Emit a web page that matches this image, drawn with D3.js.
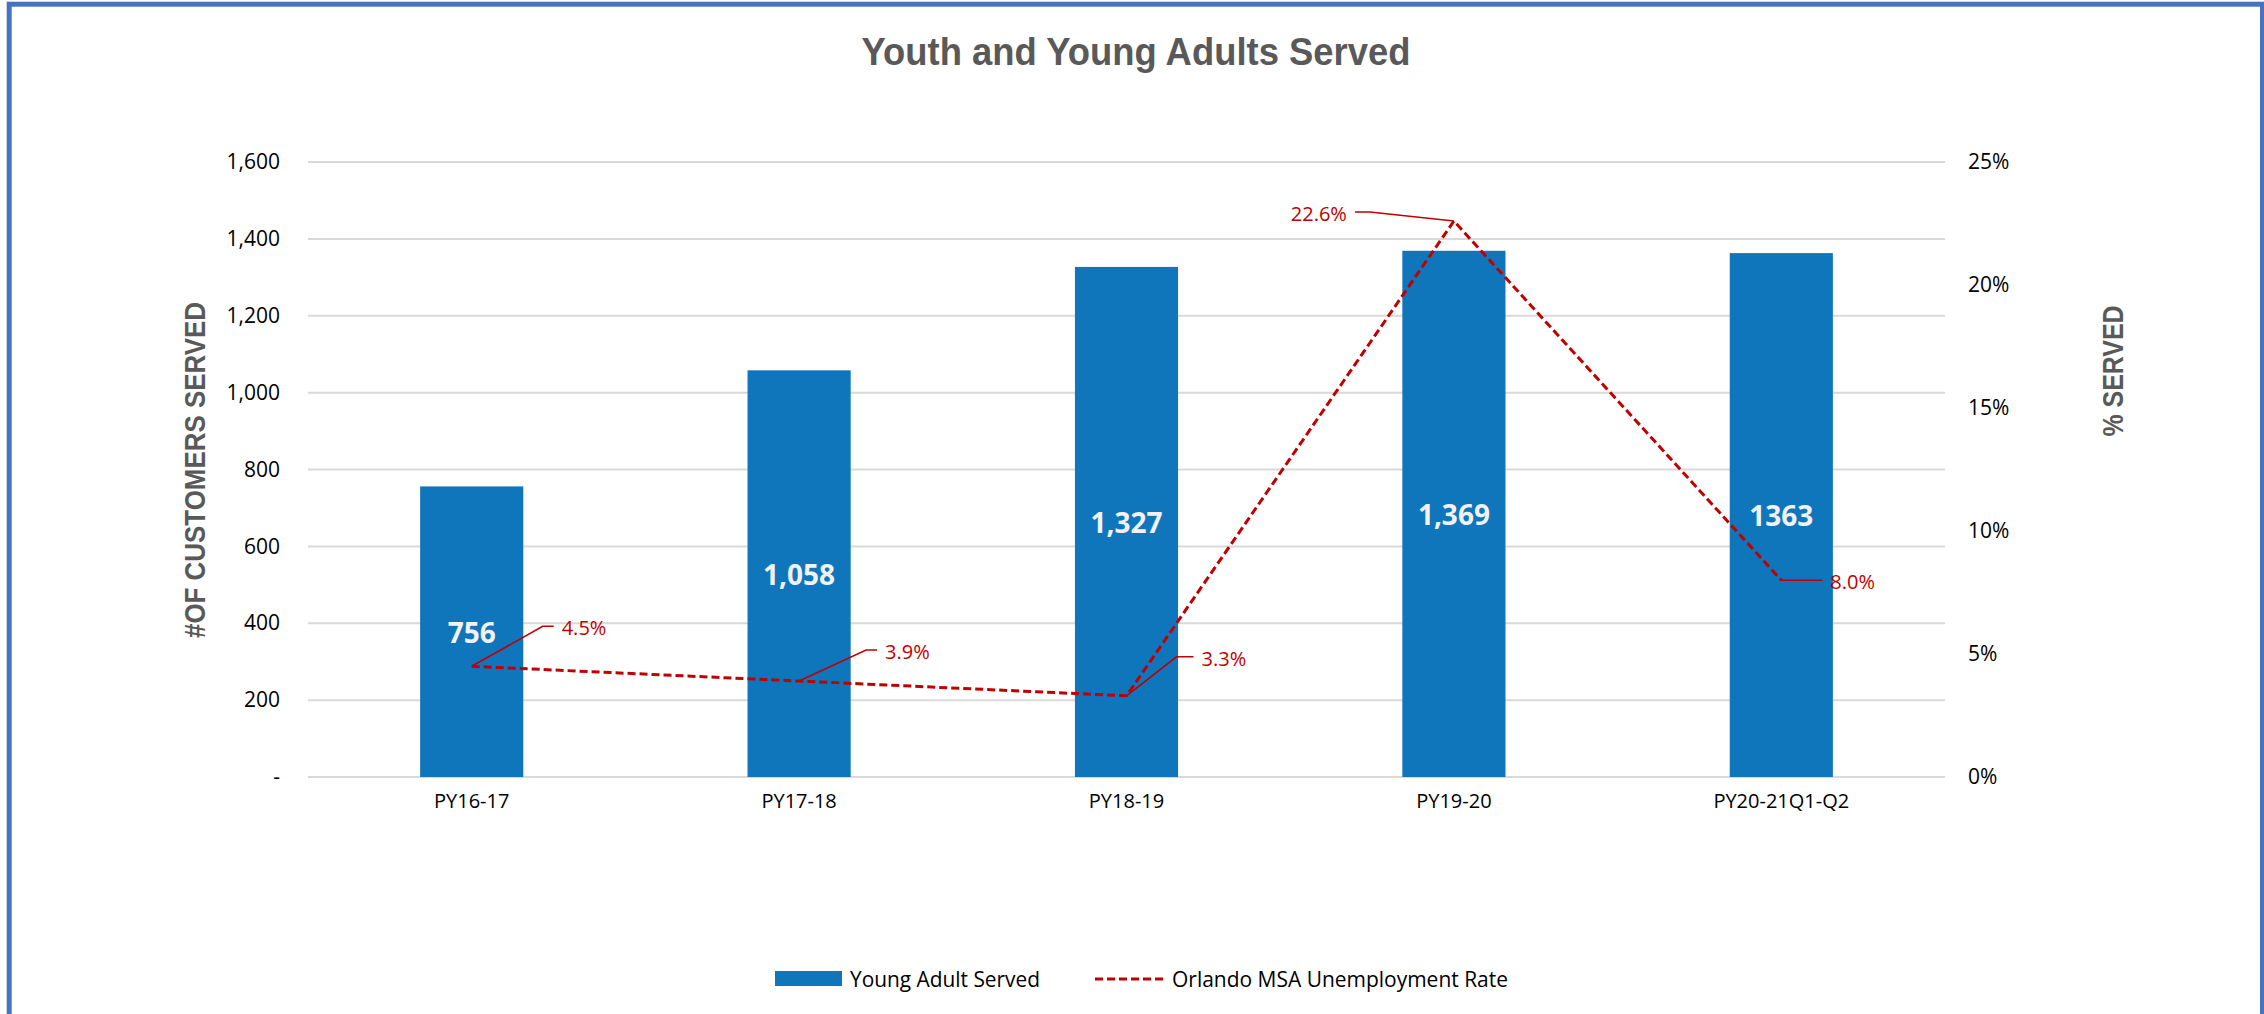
<!DOCTYPE html>
<html>
<head>
<meta charset="utf-8">
<script src="https://cdn.jsdelivr.net/npm/d3@7"></script>
<style>
  html, body { margin: 0; padding: 0; background: #ffffff; }
  svg { display: block; }
</style>
</head>
<body>
<svg id="chart" width="2264" height="1014"></svg>
<script>
// ---- data ----
const categories = ["PY16-17", "PY17-18", "PY18-19", "PY19-20", "PY20-21Q1-Q2"];
const youngAdultServed = [756, 1058, 1327, 1369, 1363];
const servedLabels = ["756", "1,058", "1,327", "1,369", "1363"];
const unemploymentRate = [0.045, 0.039, 0.033, 0.226, 0.080];
const leftTicks = [0, 200, 400, 600, 800, 1000, 1200, 1400, 1600];
const rightTicks = [0, 0.05, 0.10, 0.15, 0.20, 0.25];
const seriesNames = ["Young Adult Served", "Orlando MSA Unemployment Rate"];

// ---- layout ----
const W = 2264, H = 1014;
const plot = { left: 308, right: 1945, top: 162, bottom: 777 };
const BAR = "#1076bc", RED = "#c00000", GRID = "#d9d9d9", TITLE_GRAY = "#595959";
const BODY_FONT = "'Open Sans', 'Noto Sans', sans-serif";
const NARROW_FONT = "'Liberation Sans Narrow', 'Liberation Sans', Arial, sans-serif";

// leader-line geometry for the rate labels: elbow offset from the point,
// then a short horizontal run toward the text
const rateLabelLayout = [
  { dx: 71, dy: -40, run: 11, side: 1 },
  { dx: 67, dy: -31, run: 11, side: 1 },
  { dx: 50, dy: -39, run: 17, side: 1 },
  { dx: -84, dy: -9, run: 15, side: -1 },
  { dx: 30, dy: 0, run: 11, side: 1 }
];

const svg = d3.select("#chart");

// outer frame
svg.append("rect")
  .attr("x", 9.2).attr("y", 4.2)
  .attr("width", 2262.5 - 9.2).attr("height", H + 20)
  .attr("fill", "#ffffff")
  .attr("stroke", "#4472c4").attr("stroke-width", 5);

// ---- scales ----
const x = d3.scaleBand()
  .domain(categories)
  .range([plot.left, plot.right])
  .paddingInner(0.685)
  .paddingOuter(0.3425);

const yLeft = d3.scaleLinear().domain([0, 1600]).range([plot.bottom, plot.top]);
const yRight = d3.scaleLinear().domain([0, 0.25]).range([plot.bottom, plot.top]);

// ---- gridlines ----
svg.append("g")
  .selectAll("line")
  .data(leftTicks)
  .join("line")
  .attr("x1", plot.left).attr("x2", plot.right)
  .attr("y1", d => yLeft(d)).attr("y2", d => yLeft(d))
  .attr("stroke", GRID).attr("stroke-width", 2);

// ---- axes ----
const leftAxis = svg.append("g")
  .attr("transform", `translate(${plot.left},0)`)
  .call(d3.axisLeft(yLeft)
    .tickValues(leftTicks)
    .tickSize(0)
    .tickPadding(28)
    .tickFormat(d => d === 0 ? "-" : d3.format(",")(d)));
leftAxis.select(".domain").remove();
leftAxis.selectAll("text")
  .attr("font-family", BODY_FONT).attr("font-size", 21).attr("fill", "#000");

const rightAxis = svg.append("g")
  .attr("transform", `translate(${plot.right},0)`)
  .call(d3.axisRight(yRight)
    .tickValues(rightTicks)
    .tickSize(0)
    .tickPadding(23)
    .tickFormat(d3.format(".0%")));
rightAxis.select(".domain").remove();
rightAxis.selectAll("text")
  .attr("font-family", BODY_FONT).attr("font-size", 21).attr("fill", "#000");

const bottomAxis = svg.append("g")
  .attr("transform", `translate(0,${plot.bottom})`)
  .call(d3.axisBottom(x).tickSize(0).tickPadding(17));
bottomAxis.select(".domain").remove();
bottomAxis.selectAll("text")
  .attr("font-family", BODY_FONT).attr("font-size", 20).attr("fill", "#000");

// ---- bars ----
const rows = categories.map((c, i) => ({
  cat: c, served: youngAdultServed[i], label: servedLabels[i], rate: unemploymentRate[i]
}));

svg.append("g")
  .selectAll("rect")
  .data(rows)
  .join("rect")
  .attr("x", d => x(d.cat))
  .attr("y", d => yLeft(d.served))
  .attr("width", x.bandwidth())
  .attr("height", d => yLeft(0) - yLeft(d.served))
  .attr("fill", BAR);

svg.append("g")
  .selectAll("text")
  .data(rows)
  .join("text")
  .attr("x", d => x(d.cat) + x.bandwidth() / 2)
  .attr("y", d => yLeft(d.served / 2))
  .attr("text-anchor", "middle")
  .attr("dominant-baseline", "central")
  .attr("font-family", BODY_FONT)
  .attr("font-weight", 700)
  .attr("font-size", 28)
  .attr("fill", "#f2f2f2")
  .text(d => d.label);

// ---- unemployment line ----
const cx = d => x(d.cat) + x.bandwidth() / 2;
const line = d3.line().x(cx).y(d => yRight(d.rate));

svg.append("path")
  .datum(rows)
  .attr("d", line)
  .attr("fill", "none")
  .attr("stroke", RED)
  .attr("stroke-width", 3)
  .attr("stroke-dasharray", "8,4");

// rate labels with leader lines
const rateGroup = svg.append("g");
rows.forEach((d, i) => {
  const L = rateLabelLayout[i];
  const px = cx(d), py = yRight(d.rate);
  const ex = px + L.dx, ey = py + L.dy;
  const hx = ex + L.side * L.run;
  rateGroup.append("path")
    .attr("d", `M${px},${py}L${ex},${ey}L${hx},${ey}`)
    .attr("fill", "none")
    .attr("stroke", RED)
    .attr("stroke-width", 1.6);
  rateGroup.append("text")
    .attr("x", hx + L.side * 8)
    .attr("y", ey + 1.5)
    .attr("text-anchor", L.side > 0 ? "start" : "end")
    .attr("dominant-baseline", "central")
    .attr("font-family", BODY_FONT)
    .attr("font-size", 20)
    .attr("fill", RED)
    .text(d3.format(".1%")(d.rate));
});

// ---- titles ----
svg.append("text")
  .attr("x", 1136).attr("y", 65)
  .attr("text-anchor", "middle")
  .attr("font-family", NARROW_FONT)
  .attr("font-weight", 700)
  .attr("font-size", 38)
  .attr("fill", TITLE_GRAY)
  .attr("textLength", 549)
  .attr("lengthAdjust", "spacingAndGlyphs")
  .text("Youth and Young Adults Served");

svg.append("text")
  .attr("transform", "translate(194,470) rotate(-90)")
  .attr("y", 11)
  .attr("text-anchor", "middle")
  .attr("font-family", NARROW_FONT)
  .attr("font-weight", 700)
  .attr("font-size", 30)
  .attr("fill", TITLE_GRAY)
  .attr("textLength", 336)
  .attr("lengthAdjust", "spacingAndGlyphs")
  .text("#OF CUSTOMERS SERVED");

svg.append("text")
  .attr("transform", "translate(2112,371) rotate(-90)")
  .attr("y", 10.5)
  .attr("text-anchor", "middle")
  .attr("font-family", NARROW_FONT)
  .attr("font-weight", 700)
  .attr("font-size", 29)
  .attr("fill", TITLE_GRAY)
  .attr("textLength", 131)
  .attr("lengthAdjust", "spacingAndGlyphs")
  .text("% SERVED");

// ---- legend ----
const legend = svg.append("g");
legend.append("rect")
  .attr("x", 775).attr("y", 971).attr("width", 67).attr("height", 15)
  .attr("fill", BAR);
legend.append("text")
  .attr("x", 850).attr("y", 979)
  .attr("dominant-baseline", "central")
  .attr("font-family", BODY_FONT).attr("font-size", 21).attr("fill", "#000")
  .attr("textLength", 190).attr("lengthAdjust", "spacingAndGlyphs")
  .text(seriesNames[0]);
legend.append("line")
  .attr("x1", 1095).attr("x2", 1164).attr("y1", 979).attr("y2", 979)
  .attr("stroke", RED).attr("stroke-width", 3).attr("stroke-dasharray", "8,4");
legend.append("text")
  .attr("x", 1172).attr("y", 979)
  .attr("dominant-baseline", "central")
  .attr("font-family", BODY_FONT).attr("font-size", 21).attr("fill", "#000")
  .attr("textLength", 336).attr("lengthAdjust", "spacingAndGlyphs")
  .text(seriesNames[1]);
</script>
</body>
</html>
